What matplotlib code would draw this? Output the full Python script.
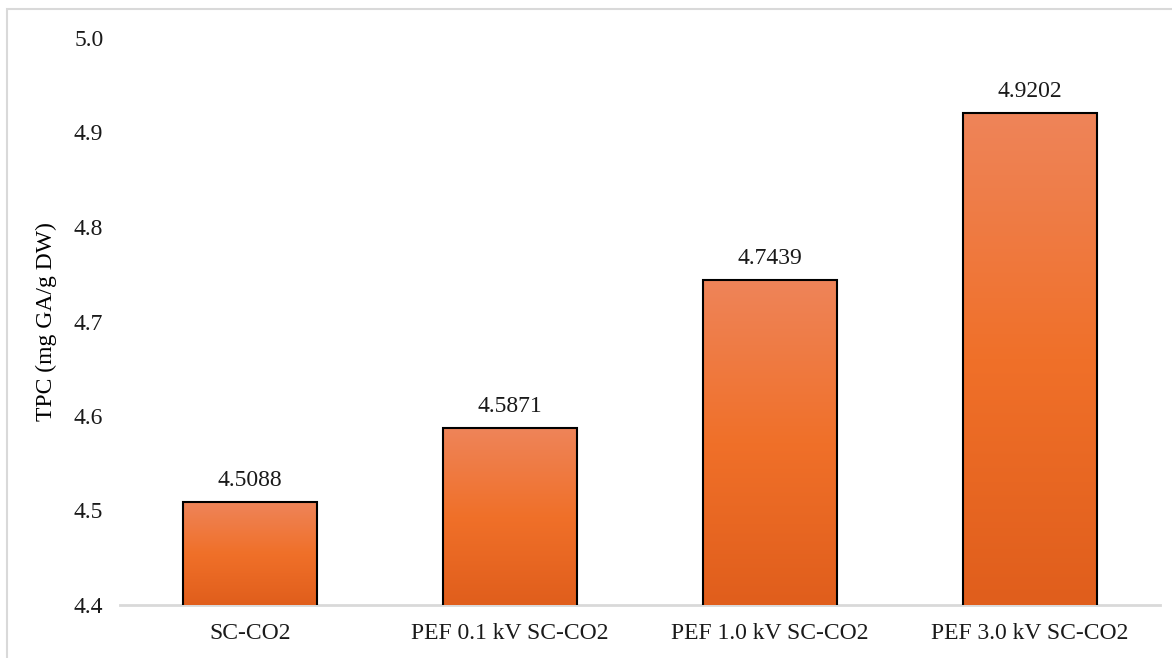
import numpy as np
import matplotlib.pyplot as plt
from matplotlib.colors import LinearSegmentedColormap
from matplotlib.patches import Rectangle

categories = ['SC-CO2', 'PEF 0.1 kV SC-CO2', 'PEF 1.0 kV SC-CO2', 'PEF 3.0 kV SC-CO2']
tpc_values = [4.5088, 4.5871, 4.7439, 4.9202]
y_ticks = [4.4, 4.5, 4.6, 4.7, 4.8, 4.9, 5.0]

plt.rcParams['font.family'] = ['Liberation Serif', 'DejaVu Serif']

fig = plt.figure(figsize=(11.72, 6.58), dpi=100)
ax = fig.add_axes([120 / 1172, 1 - 605 / 658, 1040 / 1172, (605 - 38) / 658])

# light frame around the chart area
fig.patches.append(Rectangle((7 / 1172, -0.05), 1.2, 1 - 9 / 658 + 0.05,
                             transform=fig.transFigure, fill=False,
                             edgecolor='#D9D9D9', linewidth=1.5, zorder=0))

x = np.arange(len(categories))
bars = ax.bar(x, tpc_values, width=0.515, bottom=0, facecolor='none',
              edgecolor='black', linewidth=1.5, zorder=3)

# vertical orange gradient inside each bar
cmap = LinearSegmentedColormap.from_list('grad', ['#E05E1C', '#F07029', '#EE8459'])
grad = np.linspace(0, 1, 256).reshape(-1, 1)
for b in bars:
    x0, w, h = b.get_x(), b.get_width(), b.get_height()
    im = ax.imshow(grad, cmap=cmap, origin='lower', aspect='auto',
                   extent=(x0, x0 + w, 4.4, h), zorder=2)
    im.set_clip_path(b)
    ax.text(x0 + w / 2, h + 0.012, f'{h:.4f}', ha='center', va='bottom',
            fontsize=17, color='#1a1a1a')

ax.set_xlim(-0.5, len(categories) - 0.5)
ax.set_ylim(4.4, 5.0)
ax.set_yticks(y_ticks)
ax.set_yticklabels([f'{t:.1f}' for t in y_ticks])
ax.set_xticks(x)
ax.set_xticklabels(categories)
ax.tick_params(axis='both', length=0, labelsize=17, colors='#1a1a1a')
ax.tick_params(axis='y', pad=12)
ax.tick_params(axis='x', pad=13)
ax.set_ylabel('TPC (mg GA/g DW)', fontsize=17, color='black', labelpad=12)

for side in ['top', 'right', 'left']:
    ax.spines[side].set_visible(False)
ax.spines['bottom'].set_color('#D9D9D9')
ax.spines['bottom'].set_linewidth(2)
ax.spines['bottom'].set_zorder(1)

fig.savefig('out.png', dpi=100)
